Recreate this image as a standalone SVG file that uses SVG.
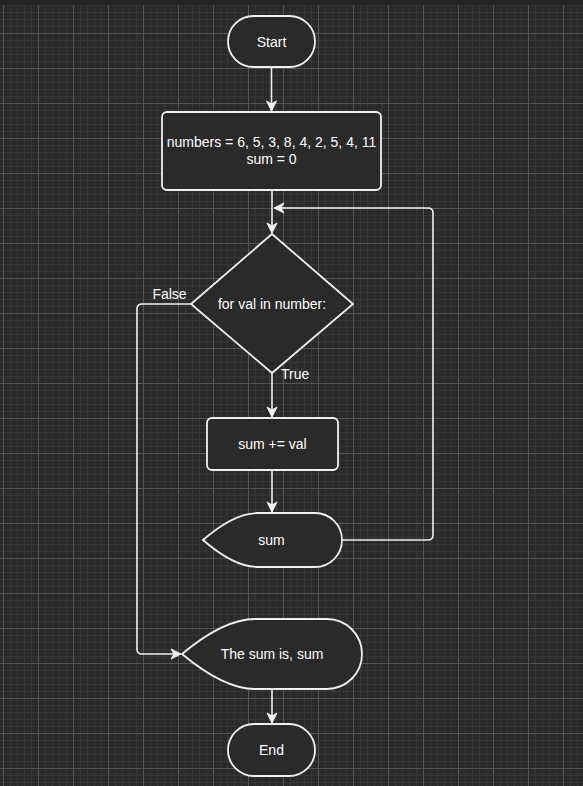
<svg xmlns="http://www.w3.org/2000/svg" width="583" height="786" viewBox="0 0 583 786">
  <defs>
    <pattern id="grid" patternUnits="userSpaceOnUse" x="3" y="-2" width="35" height="35">
      <rect x="0" y="0" width="35" height="35" fill="#2a2a2a"/>
      <g fill="#363636">
        <rect x="7" y="0" width="1" height="35"/>
        <rect x="14" y="0" width="1" height="35"/>
        <rect x="21" y="0" width="1" height="35"/>
        <rect x="28" y="0" width="1" height="35"/>
        <rect x="0" y="7" width="35" height="1"/>
        <rect x="0" y="14" width="35" height="1"/>
        <rect x="0" y="21" width="35" height="1"/>
        <rect x="0" y="28" width="35" height="1"/>
      </g>
      <g fill="#545454">
        <rect x="0" y="0" width="1" height="35"/>
        <rect x="0" y="0" width="35" height="1"/>
      </g>
    </pattern>
    <marker id="arrow" markerUnits="userSpaceOnUse" markerWidth="12" markerHeight="12" refX="10" refY="5" orient="auto" viewBox="0 0 12 10" overflow="visible">
      <path d="M0,0 L10,5 L0,10 L3,5 Z" fill="#f0f0f0" stroke="#f0f0f0" stroke-width="1" stroke-linejoin="miter"/>
    </marker>
    <style>
      .node { fill: #2a2a2a; stroke: #f0f0f0; stroke-width: 1.8; }
      .lbl { font-family: "Liberation Sans", Arial, sans-serif; font-size: 14px; fill: #ffffff; text-anchor: middle; }
      .elbl { font-family: "Liberation Sans", Arial, sans-serif; font-size: 14px; fill: #ffffff; }
      .edge { fill: none; stroke: #f0f0f0; stroke-width: 1.6; marker-end: url(#arrow); }
    </style>
  </defs>

  <rect x="0" y="0" width="583" height="786" fill="url(#grid)"/>
  <rect x="0" y="0" width="583" height="5" fill="#232323"/>

  <g id="connectors">
    <path class="edge" d="M271.5,67 V111"/>
    <path class="edge" d="M272,190 V233"/>
    <path class="edge" d="M272,373 V417"/>
    <path class="edge" d="M272,470 V512"/>
    <path class="edge" d="M342,540 H428 Q433,540 433,535 V213 Q433,208 428,208 H274"/>
    <path class="edge" d="M191,304 H142 Q137,304 137,309 V649 Q137,654 142,654 H181"/>
    <path class="edge" d="M272,689 V723"/>
    <text class="elbl" x="169.5" y="299" text-anchor="middle">False</text>
    <text class="elbl" x="281" y="379">True</text>
  </g>

  <g id="start">
    <rect class="node" x="228" y="16" width="87" height="51" rx="25.5" ry="25.5"/>
    <text class="lbl" x="271.5" y="46.5">Start</text>
  </g>

  <g id="init">
    <rect class="node" x="162" y="112" width="219" height="78" rx="5" ry="5"/>
    <text class="lbl" x="271.5" y="147">numbers = 6, 5, 3, 8, 4, 2, 5, 4, 11</text>
    <text class="lbl" x="271.5" y="163.5">sum = 0</text>
  </g>

  <g id="loop">
    <path class="node" d="M272,234 L353,304 L272,373 L191,304 Z"/>
    <text class="lbl" x="272" y="309">for val in number:</text>
  </g>

  <g id="add">
    <rect class="node" x="207" y="418" width="131" height="52" rx="5" ry="5"/>
    <text class="lbl" x="272.5" y="449">sum += val</text>
  </g>

  <g id="display-sum">
    <path class="node" d="M203,540 Q234,513 258,513 L315,513 A27,27 0 0 1 315,567 L258,567 Q234,567 203,540 Z"/>
    <text class="lbl" x="271.5" y="545">sum</text>
  </g>

  <g id="display-result">
    <path class="node" d="M182,654 Q224,619 255,619 L327,619 A35,35 0 0 1 327,689 L255,689 Q224,689 182,654 Z"/>
    <text class="lbl" x="272" y="659">The sum is, sum</text>
  </g>

  <g id="end">
    <rect class="node" x="228" y="724" width="87" height="52" rx="26" ry="26"/>
    <text class="lbl" x="271.5" y="755">End</text>
  </g>
</svg>
